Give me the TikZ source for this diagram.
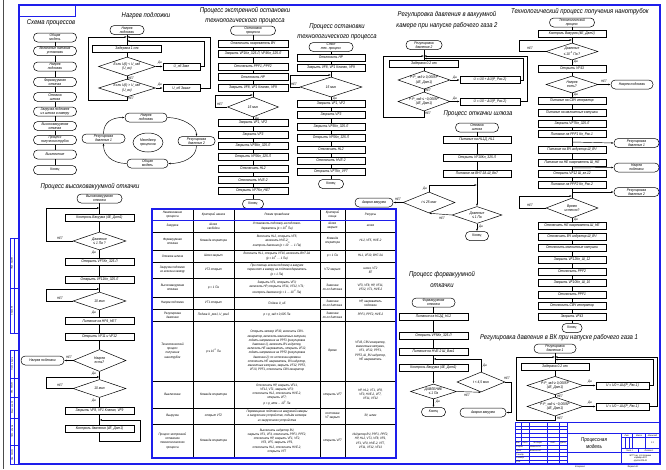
\documentclass[tikz,border=0pt]{standalone}
\usepackage{fontspec}
\setmainfont{Liberation Sans}[FakeStretch=0.85]
\usetikzlibrary{shapes.geometric,arrows.meta}
\definecolor{fb}{RGB}{30,30,235}
\tikzset{
  base/.style={font=\fontsize{3.8}{4.1}\selectfont\itshape, inner sep=0pt, align=center},
  pbox/.style={base, draw, line width=0.5pt, rectangle, minimum width=#1, minimum height=7},
  pbox/.default=69,
  term/.style={base, draw, line width=0.5pt, rectangle, rounded corners=4.2pt, minimum width=#1, minimum height=9},
  term/.default=42,
  dia/.style 2 args={base, draw, line width=0.5pt, diamond, aspect=2.6, minimum width=#1, minimum height=#2},
  lbl/.style={font=\fontsize{3.3}{3.6}\selectfont\itshape, inner sep=0pt},
  ttl/.style={font=\fontsize{7}{8}\selectfont\itshape, inner sep=0pt},
  ln/.style={line width=0.45pt},
  arr/.style={line width=0.45pt, -{Latex[length=2.4pt,width=1.8pt]}},
  tc/.style={font=\fontsize{3.3}{4.2}\selectfont\itshape, inner sep=0pt, align=center},
  stp/.style={font=\fontsize{2.3}{2.7}\selectfont\itshape, inner sep=0pt, align=center},
  fr/.style={draw=fb, line width=0.7pt},
}
\begin{document}
\begin{tikzpicture}[x=1pt,y=-1pt]
\useasboundingbox (0,0) rectangle (666,469);
\fill[white] (0,0) rectangle (666,469);
% ---------- frame ----------
\draw[line width=0.4pt, black!70] (3,0) -- (3,469);
\draw[draw=fb, line width=1.2pt] (19,5) rectangle (660,464);
\draw[fr] (19,5) rectangle (75,16);
% left stamp
\draw[fr] (10,238) rectangle (19,333);
\draw[fr] (10,288) -- (19,288);
\draw[fr] (14,238) -- (14,333);
\draw[fr] (10,350) rectangle (19,464);
\foreach \yy in {378,397,418,445} \draw[fr] (10,\yy) -- (19,\yy);
\draw[fr] (14,350) -- (14,464);
\node[stp, rotate=90] (s1) at (12,263) {Перв. примен.};
\node[stp, rotate=90] (s2) at (12,310.5) {Справ. №};
\node[stp, rotate=90] (s3) at (12,364) {Подп. и дата};
\node[stp, rotate=90] (s4) at (12,387.5) {Инв. № дубл.};
\node[stp, rotate=90] (s5) at (12,407.5) {Взам. инв. №};
\node[stp, rotate=90] (s6) at (12,431.5) {Подп. и дата};
\node[stp, rotate=90] (s7) at (12,454.5) {Инв. № подл.};

% ---------- A: Схема процессов ----------
\node[ttl] (tA) at (51,23) {Схема процессов};
\node[term=43] (a1) at (55,37.5) {Общая\\модель};
\node[term=43] (a2) at (55,51) {Включение питания\\установки};
\node[term=43] (a3) at (55,66.5) {Нагрев\\подложки};
\node[term=43] (a4) at (55,82) {Форвакуумная\\откачка};
\node[term=43] (a5) at (55,97) {Откачка\\шлюза};
\node[term=43] (a6) at (55,111.5) {Загрузка подложек\\из шлюза в камеру};
\node[term=43] (a7) at (55,126) {Высоковакуумная\\откачка};
\node[term=43] (a8) at (55,140) {Процесс\\получения трубок};
\node[term=43] (a9) at (55,154.5) {Выключение};
\node[term=43] (a10) at (55,170) {Конец};
\draw[ln] (a1)--(a2)--(a3)--(a4)--(a5)--(a6)--(a7)--(a8)--(a9)--(a10);

% ---------- B: Нагрев подложки ----------
\node[ttl] (tB) at (146,16) {Нагрев подложки};
\node[term=34] (b0) at (127,30) {Нагрев\\подложки};
\coordinate (bj) at (127,37);
\coordinate (bj2) at (127,41);
\node[pbox=69] (b1) at (127,49) {Задержка 1 сек};
\node[dia={57}{19}] (bd1) at (127,66.5) {Если U(t) < U\_зад\\(U\_вх)};
\node[dia={57}{17}] (bd2) at (127,88) {Если U(t) > U\_зад\\(U\_вх)};
\node[pbox=37] (br1) at (181.5,66.5) {U\_нб Звкл};
\node[pbox=37] (br2) at (181.5,88) {U\_нб Звыкл};
\draw[ln] (b0) -- (b1);
\draw[ln] (b1) -- (bd1);
\draw[ln] (bd1) -- (bd2);
\draw[arr] (bd1.east) -- (br1.west);
\draw[arr] (bd2.east) -- (br2.west);
\draw[arr] (br1.east) -- (204,66.5) -- (204,41) -- (bj2);
\draw[arr] (br2.east) -- (210,88) -- (210,37) -- (bj);
\draw[arr] (bd2.south) -- (127,100) -- (88,100) -- (88,37) -- (bj);
\node[lbl] (bl1) at (160,63) {Да};
\node[lbl] (bl2) at (131,78.5) {НЕТ};
\node[lbl] (bl3) at (160,85) {Да};
\node[lbl] (bl4) at (131,98.5) {НЕТ};
% cycle
\node[term=42] (cn) at (146,117.5) {Нагрев\\подложки};
\node[term=43] (cr1) at (103.5,138.5) {Регулировка\\давления 1};
\node[base, draw, line width=0.5pt, ellipse, minimum width=30, minimum height=19] (cm) at (148,142.5) {Менеджер\\процессов};
\node[term=37] (cr2) at (196.5,141) {Регулировка\\давления 2};
\node[term=41] (co) at (147.5,163.5) {Общая\\модель};
\draw[arr] (cr1.north) .. controls (103.5,122) and (112,117.5) .. (cn.west);
\draw[arr] (cn.east) .. controls (182,117.5) and (196.5,126) .. (cr2.north);
\draw[arr] (cr2.south) .. controls (196.5,158) and (182,163.5) .. (co.east);
\draw[arr] (co.west) .. controls (112,163.5) and (103.5,155) .. (cr1.south);

% ---------- C: экстренная остановка ----------
\node[ttl] (tC1) at (245,11) {Процесс экстренной остановки};
\node[ttl] (tC2) at (245,21) {технологического процесса};
\node[term=45] (c0) at (253,30.5) {Остановка\\процесса};
\node[pbox=70] (c1) at (253,43.5) {Отключить нагреватель ВЧ};
\node[pbox=70] (c2) at (253,53.5) {Закрыть VF1Кл\_325.Л, VF4Кл\_325.Л};
\node[pbox=70] (c3) at (253,66.5) {Отключить PPF1, PPF2};
\node[pbox=70] (c4) at (253,77) {Отключить НР};
\node[pbox=70] (c5) at (253,88) {Закрыть VF8, VF1 Клапан, VF9};
\node[dia={51}{20}] (cd) at (253,107) {15 мин};
\node[pbox=70] (c6) at (253,122.5) {Закрыть VF1, VF2};
\node[pbox=70] (c7) at (253,134.5) {Закрыть VF3};
\node[pbox=70] (c8) at (253,146) {Закрыть VF5Кл\_325.Л};
\node[pbox=70] (c9) at (253,156.5) {Открыть VF5Кл\_325.Л};
\node[pbox=70] (c10) at (253,168.5) {Отключить НL2};
\node[pbox=70] (c11) at (253,180) {Отключить HVE-2};
\node[pbox=70] (c12) at (253,190.5) {Открыть VF7Кл\_НЕ7};
\node[term=21] (ce) at (253,204) {Конец};
\draw[ln] (c0)--(c1)--(c2)--(c3)--(c4)--(c5)--(cd)--(c6)--(c7)--(c8)--(c9)--(c10)--(c11)--(c12)--(ce);
\draw[arr] (cd.west) -- (215,107) -- (215,95) -- (253,95);
\node[lbl] (cl1) at (220,104) {НЕТ};
\node[lbl] (cl2) at (257,118.5) {Да};

% ---------- D: остановка ----------
\node[ttl] (tD1) at (337,27) {Процесс остановки};
\node[ttl] (tD2) at (337,37.5) {технологического процесса};
\node[term=44] (d0) at (331,47) {Стоп\\тех. процесс};
\node[pbox=68] (d1) at (331,57.5) {Отключить НР};
\node[pbox=68] (d2) at (331,68) {Закрыть VF8, VF1 Клапан, VF9};
\node[dia={62}{20}] (dd) at (331,87) {15 мин};
\node[pbox=68] (d3) at (331,103.5) {Закрыть VF1, VF2};
\node[pbox=68] (d4) at (331,115) {Закрыть VF3};
\node[pbox=68] (d5) at (331,126.5) {Закрыть VF5Кл\_325.Л};
\node[pbox=68] (d6) at (331,138) {Открыть VF5Кл\_325.Л};
\node[pbox=68] (d7) at (331,149.5) {Отключить НL2};
\node[pbox=68] (d8) at (331,160.5) {Отключить HVE-2};
\node[pbox=68] (d9) at (331,172) {Открыть VF7Кл\_VF7};
\node[term=25] (de) at (331,184) {Конец};
\draw[ln] (d0)--(d1)--(d2)--(dd)--(d3)--(d4)--(d5)--(d6)--(d7)--(d8)--(d9)--(de);
\draw[arr] (dd.west) -- (290,87) -- (290,75) -- (331,75);
\node[lbl] (dl1) at (294,84) {НЕТ};
\node[lbl] (dl2) at (335,99) {Да};

% ---------- E: Регулировка давления 2 ----------
\node[ttl] (tE1) at (447,15) {Регулировка давления в вакуумной};
\node[ttl] (tE2) at (447,26) {камере при напуске рабочего газа 2};
\node[term=36] (e0) at (424,45) {Регулировка\\давления 2};
\coordinate (ej) at (424,56);
\coordinate (ej2) at (424,58.5);
\node[pbox=69] (e1) at (424,63.5) {Задержка 0.2 сек};
\node[dia={52}{16}] (ed1) at (424,80) {Р-Р\_зад ≥ 0,0005Р\\(4Е\_Дат1)};
\node[dia={52}{17}] (ed2) at (424,101.5) {Р-Р\_зад ≤ −0,0005Р\\(4Е\_Дат1)};
\node[pbox=60] (er1) at (490,80) {U = U0 + ΔU(Р\_Рас.2)};
\node[pbox=60] (er2) at (490,101.5) {U = U0 − ΔU(Р\_Рас.2)};
\draw[ln] (e0) -- (e1);
\draw[ln] (e1) -- (ed1);
\draw[ln] (ed1) -- (ed2);
\draw[arr] (ed1.east) -- (er1.west);
\draw[arr] (ed2.east) -- (er2.west);
\draw[arr] (er1.east) -- (523,80) -- (523,58.5) -- (ej2);
\draw[arr] (er2.east) -- (527,101.5) -- (527,56) -- (ej);
\draw[arr] (ed2.south) -- (424,117) -- (383,117) -- (383,56) -- (ej);
\node[lbl] (el1) at (455,77.5) {Да};
\node[lbl] (el2) at (428,90.5) {НЕТ};
\node[lbl] (el3) at (455,99) {Да};
\node[lbl] (el4) at (428,113) {НЕТ};

% ---------- F: откачка шлюза ----------
\node[ttl] (tF) at (478,114) {Процесс откачки шлюза};
\node[term=43] (f0) at (477,127.5) {Откачка\\шлюза};
\node[pbox=68] (f1) at (477,139.5) {Питание на НL1Д\_НL1};
\node[pbox=68] (f2) at (477,158) {Открыть VF10Кл\_325.Л};
\node[pbox=68] (f3) at (477,173.5) {Питание на ВН7-3А Ш\_Вн7};
\coordinate (fj) at (477,185);
\node[dia={50}{17}] (fd2) at (477,215) {Давление\\≤ 1 Па};
\node[dia={52}{21}] (fd1) at (429,202.5) {t ≤ 25 мин};
\node[term=38] (fa) at (374,202.5) {Авария вакуума};
\node[term=23] (fe) at (477,236) {Конец};
\draw[ln] (f0)--(f1)--(f2)--(f3);
\draw[arr] (f3) -- (fd2);
\draw[arr] (fd2) -- (fe);
\draw[arr] (fd2.west) -- (fd1.south);
\draw[arr] (fd1.north) -- (429,185) -- (fj);
\draw[arr] (fd1.west) -- (fa.east);
\node[lbl] (fl1) at (425,189) {Да};
\node[lbl] (fl2) at (398,199.5) {НЕТ};
\node[lbl] (fl3) at (442,218) {НЕТ};
\node[lbl] (fl4) at (481,227) {Да};

% ---------- G: нанотрубки ----------
\node[ttl] (tG) at (580,12) {Технологический процесс получения нанотрубок};
\node[term=45] (g0) at (572,22.5) {Технологический\\процесс};
\node[pbox=68] (g1) at (572,33.5) {Контроль Вакуума (4Е\_Дат1)};
\coordinate (gj1) at (572,40);
\node[dia={52}{17}] (gd1) at (572,51.5) {Давление\\≤ 10\textsuperscript{-3} Па ?};
\node[pbox=68] (g2) at (572,68.5) {Открыть VF43};
\node[dia={52}{17}] (gd2) at (572,84.5) {Нагрев\\есть?};
\node[term=42] (gn) at (632,84.5) {Нагрев подложки};
\node[pbox=68] (g3) at (572,101) {Питание на СВЧ генератор};
\node[pbox=68] (g4) at (572,112.5) {Питание на магнитные катушки};
\node[pbox=68] (g5) at (572,123.5) {Закрыть VF7Кл\_325.Л};
\node[pbox=68] (g6) at (572,134) {Питание на PPF1 Кл\_Рас.1};
\coordinate (gk1) at (572,142);
\node[term=45] (gr1) at (636.5,143) {Регулировка\\давления 1};
\node[pbox=68] (g7) at (572,150) {Питание на ВЧ индуктор Ш\_ВЧ};
\node[pbox=68] (g8) at (572,162.5) {Питание на НЕ нагреватель Ш\_НЕ};
\coordinate (gk2) at (572,168);
\node[term=45] (gn2) at (636.5,167.5) {Нагрев\\подложки};
\node[pbox=68] (g9) at (572,173.5) {Открыть VF12 Ш\_кл.12};
\node[pbox=68] (g10) at (572,184.5) {Питание на PPF2 Кл\_Рас.2};
\coordinate (gk3) at (572,192);
\node[term=45] (gr2) at (636.5,192) {Регулировка\\давления 2};
\coordinate (gj3) at (572,196);
\node[dia={52}{20}] (gd3) at (572,208) {Время\\истекло?};
\node[pbox=68] (g11) at (572,225.5) {Отключить НЕ нагреватель Ш\_НЕ};
\node[pbox=68] (g12) at (572,236.5) {Отключить ВЧ индуктор Ш\_ВЧ};
\node[pbox=68] (g13) at (572,248) {Отключить магнитные катушки};
\node[pbox=68] (g14) at (572,259.5) {Закрыть VF12Кл\_Ш\_12};
\node[pbox=68] (g15) at (572,271.5) {Отключить PPF2};
\node[pbox=68] (g16) at (572,282.5) {Закрыть VF10Кл\_Ш\_10};
\node[pbox=68] (g17) at (572,294.5) {Отключить PPF1};
\node[pbox=68] (g18) at (572,305.5) {Отключить СВЧ генератор};
\node[pbox=68] (g19) at (572,317) {Закрыть VF43};
\node[term=20] (ge) at (572,328) {Конец};
\draw[ln] (g0)--(g1)--(gd1)--(g2)--(gd2)--(g3)--(g4)--(g5)--(g6)--(g7)--(g8)--(g9)--(g10)--(gd3)--(g11)--(g12)--(g13)--(g14)--(g15)--(g16)--(g17)--(g18)--(g19)--(ge);
\draw[arr] (gd1.west) -- (519,51.5) -- (519,40) -- (gj1);
\draw[arr] (gd3.west) -- (519,208) -- (519,196) -- (gj3);
\draw[arr] (gd2.east) -- (gn.west);
\draw[arr] (gk1) -- (gr1.west);
\draw[arr] (gk2) -- (gn2.west);
\draw[arr] (gk3) -- (gr2.west);
\node[lbl] (gl1) at (530,48) {НЕТ};
\node[lbl] (gl2) at (576,62) {Да};
\node[lbl] (gl3) at (604,81) {НЕТ};
\node[lbl] (gl4) at (576,95) {Да};
\node[lbl] (gl5) at (530,205) {НЕТ};
\node[lbl] (gl6) at (576,220) {Да};

% ---------- H: Регулировка давления 1 ----------
\node[ttl] (tH) at (559,338) {Регулировка давления в ВК при напуске рабочего газа 1};
\node[term=42] (h0) at (555,348.5) {Регулировка\\давления 1};
\coordinate (hj) at (555,357);
\coordinate (hj2) at (555,359.5);
\node[pbox=68] (h1) at (555,366.5) {Задержка 0.2 сек};
\node[dia={56}{18}] (hd1) at (555,385.5) {Р-Р\_зад ≥ 0,0005Р\\(4Е\_Дат1)};
\node[dia={56}{19}] (hd2) at (555,406.5) {Р-Р\_зад ≤ −0,0005Р\\(4Е\_Дат1)};
\node[pbox=53] (hr1) at (622.5,385.5) {U = U0 + ΔU(Р\_Рас.1)};
\node[pbox=53] (hr2) at (622.5,406.5) {U = U0 − ΔU(Р\_Рас.1)};
\draw[ln] (h0) -- (h1);
\draw[ln] (h1) -- (hd1);
\draw[ln] (hd1) -- (hd2);
\draw[arr] (hd1.east) -- (hr1.west);
\draw[arr] (hd2.east) -- (hr2.west);
\draw[arr] (hr1.east) -- (653,385.5) -- (653,359.5) -- (hj2);
\draw[arr] (hr2.east) -- (657,406.5) -- (657,357) -- (hj);
\draw[arr] (hd2.south) -- (555,420) -- (516,420) -- (516,357) -- (hj);
\node[lbl] (hl1) at (590,382) {Да};
\node[lbl] (hl2) at (560,396) {НЕТ};
\node[lbl] (hl3) at (590,403) {Да};
\node[lbl] (hl4) at (560,418.5) {НЕТ};

% ---------- I: высоковакуумная откачка ----------
\node[ttl] (tI) at (90,187) {Процесс высоковакуумной откачки};
\node[term=45] (i0) at (99.5,198.5) {Высоковакуумная\\откачка};
\coordinate (ij1) at (99.5,208);
\node[pbox=69] (i1) at (99.5,218) {Контроль Вакуума (4Е\_Дат1)};
\node[dia={53}{18}] (id1) at (99.5,241) {Давление\\≤ 1 Па ?};
\node[pbox=69] (i2) at (99.5,261.5) {Открыть VF7Кл\_325.Л};
\node[pbox=69] (i3) at (99.5,279.5) {Открыть VF11Кл\_325.Л};
\coordinate (ij2) at (99.5,289);
\node[dia={53}{18}] (id2) at (99.5,301) {10 мин};
\node[pbox=69] (i4) at (99.5,321) {Питание на НР4\_НЕ7};
\node[pbox=69] (i5) at (99.5,336.5) {Открыть VF11 и VF12};
\node[dia={53}{22}] (id3) at (99.5,360.5) {Нагрев\\есть?};
\node[term=43] (in) at (42.5,360.5) {Нагрев подложки};
\coordinate (ij3) at (99.5,377);
\node[dia={53}{18}] (id4) at (99.5,388.5) {10 мин};
\node[pbox=69] (i6) at (99.5,410.5) {Закрыть VF8, VF1 Клапан, VF9};
\coordinate (ij4) at (99.5,420);
\node[pbox=69] (i7) at (99.5,429) {Контроль давления (4Е\_Дат1)};
\draw[ln] (i0)--(i1)--(id1)--(i2)--(i3)--(id2)--(i4)--(i5)--(id3)--(id4)--(i6)--(i7);
\draw[arr] (id1.west) -- (46,241) -- (46,208) -- (ij1);
\draw[arr] (id2.west) -- (46,301) -- (46,289) -- (ij2);
\draw[arr] (id3.west) -- (in.east);
\draw[arr] (id4.west) -- (46,388.5) -- (46,377) -- (ij3);
\draw[arr] (i7.south) -- (99.5,441) -- (140,441) -- (140,420) -- (ij4);
\node[lbl] (il1) at (60,238) {НЕТ};
\node[lbl] (il2) at (94,252.5) {Да};
\node[lbl] (il3) at (60,298) {НЕТ};
\node[lbl] (il4) at (94,312.5) {Да};
\node[lbl] (il5) at (69,357.5) {НЕТ};
\node[lbl] (il6) at (94,374) {Да};
\node[lbl] (il7) at (60,385.5) {НЕТ};
\node[lbl] (il8) at (94,400.5) {Да};

% ---------- J: форвакуумная откачка ----------
\node[ttl] (tJ1) at (442,275) {Процесс форвакуумной};
\node[ttl] (tJ2) at (442,286) {откачки};
\node[term=43] (j0) at (433.5,302.5) {Форвакуумная\\откачка};
\node[pbox=69] (j1) at (433.5,317) {Питание на НL2Д\_НL2};
\node[pbox=69] (j2) at (433.5,335.5) {Открыть VF5Кл\_325.Л};
\node[pbox=69] (j3) at (433.5,351.5) {Питание на HVE-2 Ш\_Вак1};
\coordinate (jj) at (433.5,359);
\node[pbox=69] (j4) at (433.5,368) {Контроль Вакуума (4Е\_Дат1)};
\node[dia={46}{15}] (jd1) at (433.5,391.5) {ДАВЛЕНИЕ\\≤ 1 Па};
\node[term=24] (je) at (433.5,412) {Конец};
\node[dia={48}{20}] (jd2) at (481,382) {t < 4,5 мин};
\node[term=46] (ja) at (483,412.5) {Авария вакуума};
\draw[ln] (j0)--(j1)--(j2)--(j3)--(j4);
\draw[arr] (j4) -- (jd1);
\draw[arr] (jd1) -- (je);
\draw[arr] (jd1.east) -- (jd2.south);
\draw[arr] (jd2.north) -- (481,359) -- (jj);
\draw[arr] (jd2.east) -- (511,382) -- (511,412.5) -- (ja.east);
\node[lbl] (jl1) at (438,401.5) {Да};
\node[lbl] (jl2) at (467,395.5) {НЕТ};
\node[lbl] (jl3) at (485,366) {Да};
\node[lbl] (jl4) at (507,378) {НЕТ};

% ---------- table ----------
\foreach \yy in {220,232,250,262,278,297,309,321,381,408,424}
  \draw[ln] (152,\yy) -- (396,\yy);
\foreach \xx in {193,234,320,345}
  \draw[ln] (\xx,209) -- (\xx,458);
\draw[draw=fb, line width=0.8pt] (152,220) -- (396,220);
\draw[draw=fb, line width=1.1pt] (152,209) rectangle (396,458);
\node[tc] (t01) at (172.5,214.5) {Наименование\\процесса};
\node[tc] (t02) at (213.5,214.5) {Критерий начала};
\node[tc] (t03) at (277,214.5) {Режим проведения};
\node[tc] (t04) at (332.5,214.5) {Критерий\\конца};
\node[tc] (t05) at (370.5,214.5) {Ресурсы};
\node[tc] (t11) at (172.5,226) {Загрузка};
\node[tc] (t12) at (213.5,226) {Шлюз\\свободен};
\node[tc] (t13) at (277,226) {Установить подложку на подложко-\\держатель (р = 10\textsuperscript{5} Па)};
\node[tc] (t14) at (332.5,226) {Шлюз\\закрыт};
\node[tc] (t15) at (370.5,226) {шлюз};
\node[tc] (t21) at (172.5,241) {Форвакуумная\\откачка};
\node[tc] (t22) at (213.5,241) {Команда оператора};
\node[tc] (t23) at (277,241) {Включить НL2, открыть VF5;\\включить HVE-2;\\контроль давления (р = 10\textsuperscript{5} ... 1 Па)};
\node[tc] (t24) at (332.5,241) {Команда\\оператора};
\node[tc] (t25) at (370.5,241) {НL2, VF5, HVE-2};
\node[tc] (t31) at (172.5,256) {Откачка шлюза};
\node[tc] (t32) at (213.5,256) {Шлюз закрыт};
\node[tc] (t33) at (277,256) {Включить НL1, открыть VF10, включить ВН7-3А\\(р = 10\textsuperscript{5} ... 1 Па)};
\node[tc] (t34) at (332.5,256) {р = 1 Па};
\node[tc] (t35) at (370.5,256) {НL1, VF10, ВН7-3А};
\node[tc] (t41) at (172.5,270) {Загрузка подложек\\из шлюза в камеру};
\node[tc] (t42) at (213.5,270) {VT2 открыт};
\node[tc] (t43) at (277,270) {При помощи шлюза подложку в вакууме\\переносят в камеру на подложкодержатель\\(р = 1 Па)};
\node[tc] (t44) at (332.5,270) {VT2 закрыт};
\node[tc] (t45) at (370.5,270) {шлюз, VT2\\ВТ};
\node[tc] (t51) at (172.5,287.5) {Высоковакуумная\\откачка};
\node[tc] (t52) at (213.5,287.5) {р = 1 Па};
\node[tc] (t53) at (277,287.5) {Закрыть VF1, открыть VF3;\\включить НР, открыть VF11, VF12, VT1;\\контроль давления (р = 1 ... 10\textsuperscript{-3} Па)};
\node[tc] (t54) at (332.5,287.5) {Значение\\по-сл датчика};
\node[tc] (t55) at (370.5,287.5) {VF3, VF8, НР, VF11,\\VF12, VT1, HVE-2};
\node[tc] (t61) at (172.5,303) {Нагрев подложки};
\node[tc] (t62) at (213.5,303) {VT1 открыт};
\node[tc] (t63) at (277,303) {Подача U\_нб};
\node[tc] (t64) at (332.5,303) {Значение\\по-сл датчика};
\node[tc] (t65) at (370.5,303) {НР, нагреватель\\подложки};
\node[tc] (t71) at (172.5,315) {Регулировка\\давления};
\node[tc] (t72) at (213.5,315) {Подача U\_рег1, U\_рег2};
\node[tc] (t73) at (277,315) {р = р\_зад ± 0,005 Па};
\node[tc] (t74) at (332.5,315) {Значение\\по-сл датчика};
\node[tc] (t75) at (370.5,315) {PPF1, PPF2, HVE-2};
\node[tc] (t81) at (172.5,351) {Технологический\\процесс\\получения\\нанотрубок};
\node[tc] (t82) at (213.5,351) {р ≤ 10\textsuperscript{-3} Па};
\node[tc] (t83) at (277,351) {Открыть затвор VF43, включить СВЧ-\\генератор, включить магнитные катушки,\\подать напряжение на PPF1 (регулировка\\давления 1), включить ВЧ индуктор,\\включить НЕ нагреватель, открыть VF12,\\подать напряжение на PPF2 (регулировка\\давления 2); по истечении времени\\отключить НЕ нагреватель, ВЧ индуктор,\\магнитные катушки, закрыть VF12, PPF2,\\VF10, PPF1, отключить СВЧ генератор};
\node[tc] (t84) at (332.5,351) {Время};
\node[tc] (t85) at (370.5,351) {VF43, СВЧ генератор,\\магнитные катушки,\\VF1, VF12, PPF1,\\PPF2, Ш\_ВЧ индуктор,\\НЕ нагреватель};
\node[tc] (t91) at (172.5,394.5) {Выключение};
\node[tc] (t92) at (213.5,394.5) {Команда оператора};
\node[tc] (t93) at (277,394.5) {Отключить НР, закрыть VF11,\\VF12, VT1, закрыть VF3;\\отключить НL2, отключить HVE-2,\\открыть VF7;\\р = р\_атм ... 10\textsuperscript{5} Па};
\node[tc] (t94) at (332.5,394.5) {открыть VF7};
\node[tc] (t95) at (370.5,394.5) {НР, НL2, VT1, VF8,\\VF3, HVE-2, VF7,\\VF11, VF12};
\node[tc] (t101) at (172.5,416) {Выгрузка};
\node[tc] (t102) at (213.5,416) {открыт VT2};
\node[tc] (t103) at (277,416) {Перемещение подложки из вакуумной камеры\\в загрузочное устройство, подъём затвора\\из загрузочного устройства};
\node[tc] (t104) at (332.5,416) {состояние\\VT закрыт};
\node[tc] (t105) at (370.5,416) {ЗУ, шлюз};
\node[tc] (t111) at (172.5,441) {Процесс экстренной\\остановки\\технологического\\процесса};
\node[tc] (t112) at (213.5,441) {Команда оператора};
\node[tc] (t113) at (277,441) {Выключить индуктор ВЧ,\\закрыть VF1, VF4, отключить PPF1, PPF2,\\отключить НР, закрыть VF1, VF2,\\VF3, VF5, закрыть VF9,\\отключить НL2, отключить HVE-2,\\открыть VF7};
\node[tc] (t114) at (332.5,441) {открыть VF7};
\node[tc] (t115) at (370.5,441) {Индуктор ВЧ, PPF1, PPF2,\\НР, НL2, VT1, VF8, VF9,\\VF1, VF4, HVE-2, VF7,\\VF11, VF12, VF13};

% ---------- title block ----------
\draw[draw=fb, line width=1pt] (515,422) -- (660,422);
\draw[draw=fb, line width=1pt] (515,422) -- (515,464);
\draw[draw=fb, line width=1pt] (567,422) -- (567,464);
\foreach \xx in {529,547,559} \draw[fr] (\xx,422) -- (\xx,464);
\draw[fr] (521,422) -- (521,445);
\foreach \k in {1,2,3,4,7,8,9,10} \draw[draw=fb, line width=0.4pt] (515,422+3.82*\k) -- (567,422+3.82*\k);
\draw[draw=fb, line width=0.9pt] (515,441.1) -- (567,441.1);
\draw[draw=fb, line width=0.9pt] (515,445) -- (567,445);
\draw[draw=fb, line width=0.9pt] (567,433.5) -- (660,433.5);
\draw[draw=fb, line width=0.9pt] (567,452.6) -- (660,452.6);
\draw[draw=fb, line width=0.9pt] (621,433.5) -- (621,464);
\draw[fr] (621,437.3) -- (660,437.3);
\draw[fr] (621,448.8) -- (660,448.8);
\draw[fr] (632.5,433.5) -- (632.5,448.8);
\draw[fr] (645.5,433.5) -- (645.5,448.8);
\draw[draw=fb, line width=0.4pt] (625,437.3) -- (625,448.8);
\draw[draw=fb, line width=0.4pt] (629,437.3) -- (629,448.8);
\draw[draw=fb, line width=0.4pt] (638,448.8) -- (638,452.6);
\node[stp] (k1) at (518,443) {Изм.};
\node[stp] (k2) at (525,443) {Лист};
\node[stp] (k3) at (538,443) {№ докум.};
\node[stp] (k4) at (553,443) {Подп.};
\node[stp] (k5) at (563,443) {Дата};
\node[stp, anchor=west] (k6) at (516,446.9) {Разраб.};
\node[stp, anchor=west] (k7) at (516,450.7) {Пров.};
\node[stp, anchor=west] (k8) at (516,454.5) {Т.контр.};
\node[stp, anchor=west] (k9) at (516,458.3) {Н.контр.};
\node[stp, anchor=west] (k10) at (516,462.1) {Утв.};
\node[stp, anchor=west] (k11) at (530,446.9) {Иванов И.И.};
\node[stp, anchor=west] (k12) at (530,450.7) {Власов А.И.};
\node[font=\fontsize{5.5}{6.5}\selectfont\itshape, inner sep=0pt, align=center] (k13) at (594,443) {Процессная\\модель};
\node[stp] (k14) at (627,435.4) {Лит.};
\node[stp] (k15) at (639,435.4) {Масса};
\node[stp] (k16) at (652.5,435.4) {Масштаб};
\node[stp] (k17) at (652.5,443) {1:1};
\node[stp] (k18) at (629.5,450.7) {Лист 1};
\node[stp] (k19) at (649,450.7) {Листов 1};
\node[stp] (k20) at (640.5,458.3) {МГТУ им. Н.Э. Баумана\\кафедра ИУ4\\группа ИУ4-81};
\node[stp] (k21) at (580,467) {Копировал};
\node[stp] (k22) at (633,467) {Формат А1};
\end{tikzpicture}
\end{document}
